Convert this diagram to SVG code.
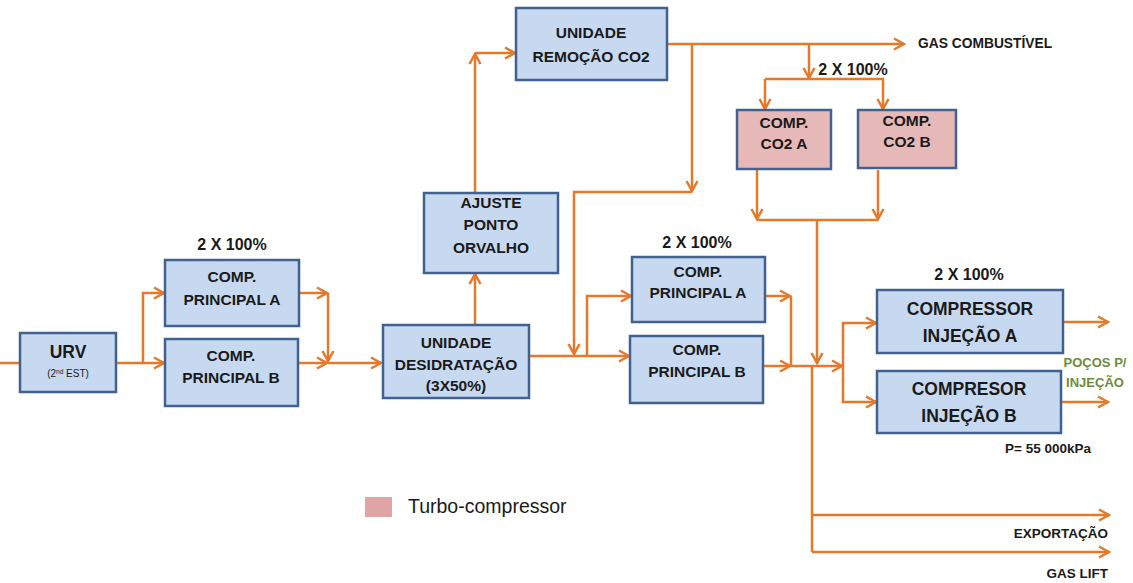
<svg xmlns="http://www.w3.org/2000/svg" width="1133" height="583" viewBox="0 0 1133 583">
<defs>
<marker id="ah" markerUnits="userSpaceOnUse" markerWidth="14" markerHeight="14" viewBox="0 0 14 14" refX="12" refY="7" orient="auto">
<path d="M2,1.5 L12,7 L2,12.5" fill="none" stroke="#e5792b" stroke-width="2.5"/>
</marker>
</defs>
<style>
.box{fill:#c6d9f1;stroke:#41628e;stroke-width:2.5}
.pink{fill:#e6b9b8;stroke:#41628e;stroke-width:2.5}
.t{font-family:"Liberation Sans",Arial,sans-serif;font-weight:bold;font-size:15.5px;fill:#1a1a1a;text-anchor:middle}
.tl{font-size:17.5px}
.s{font-family:"Liberation Sans",Arial,sans-serif;font-weight:bold;font-size:13.5px;fill:#1a1a1a}
.c{fill:none;stroke:#e5792b;stroke-width:2.5}
.a{marker-end:url(#ah)}
</style>
<rect width="1133" height="583" fill="#ffffff"/>
<g id="connectors">
<path class="c" d="M0,363 H20"/>
<path class="c a" d="M117,363 H164"/>
<path class="c a" d="M143,363 V293 H164"/>
<path class="c a" d="M300,293 H327"/>
<path class="c a" d="M328,293 V361"/>
<path class="c a" d="M298,363 H327"/>
<path class="c a" d="M328,363 H381"/>
<path class="c a" d="M475,325 V274"/>
<path class="c a" d="M475,193 V54"/>
<path class="c a" d="M475,53 H515"/>
<path class="c a" d="M667,44 H904"/>
<path class="c a" d="M692,44 V191"/>
<path class="c a" d="M692,192 H574 V354"/>
<path class="c a" d="M809,44 V78"/>
<path class="c a" d="M765,79 H883 V109"/>
<path class="c a" d="M765,79 V109"/>
<path class="c a" d="M757,169 V219"/>
<path class="c a" d="M878,170 V219"/>
<path class="c" d="M757,220 H878"/>
<path class="c a" d="M817,220 V363"/>
<path class="c" d="M529,356 H587"/>
<path class="c a" d="M587,356 H629"/>
<path class="c a" d="M587,356 V296 H631"/>
<path class="c a" d="M765,296 H790"/>
<path class="c a" d="M763,366 H790"/>
<path class="c" d="M791,296 V366"/>
<path class="c a" d="M791,366 H842"/>
<path class="c a" d="M843,366 V323 H876"/>
<path class="c a" d="M843,366 V402 H876"/>
<path class="c a" d="M1063,322 H1108"/>
<path class="c a" d="M1061,402 H1108"/>
<path class="c" d="M812,366 V552"/>
<path class="c a" d="M812,515 H1109"/>
<path class="c a" d="M812,552 H1109"/>
</g>
<g id="urv">
<rect class="box" x="20" y="333" width="96" height="59"/>
<text class="t" x="68" y="358" style="font-size:17.5px">URV</text>
<text class="t" x="68" y="377" style="font-size:10px;font-weight:normal">(2<tspan font-size="6.5" dy="-3">nd</tspan><tspan dy="3"> EST)</tspan></text>
</g>
<g id="comp-principal-a1">
<text class="t" x="232" y="250" style="font-size:16px">2 X 100%</text>
<rect class="box" x="165" y="260" width="134" height="66"/>
<text class="t" x="232" y="282">COMP.</text>
<text class="t" x="232" y="305">PRINCIPAL A</text>
</g>
<g id="comp-principal-b1">
<rect class="box" x="165" y="339" width="133" height="67"/>
<text class="t" x="231" y="361">COMP.</text>
<text class="t" x="231" y="383">PRINCIPAL B</text>
</g>
<g id="desidratacao">
<rect class="box" x="383" y="325" width="146" height="73"/>
<text class="t" x="456" y="348">UNIDADE</text>
<text class="t" x="456" y="370">DESIDRATAÇÃO</text>
<text class="t" x="456" y="391">(3X50%)</text>
</g>
<g id="ajuste">
<rect class="box" x="424" y="193" width="134" height="80"/>
<text class="t" x="491" y="208">AJUSTE</text>
<text class="t" x="491" y="230">PONTO</text>
<text class="t" x="491" y="253">ORVALHO</text>
</g>
<g id="remocao">
<rect class="box" x="516" y="8" width="151" height="72"/>
<text class="t" x="591" y="38">UNIDADE</text>
<text class="t" x="591" y="62">REMOÇÃO CO2</text>
</g>
<g id="labels-top">
<text class="s" x="918" y="48" style="font-size:13.8px">GAS COMBUSTÍVEL</text>
<text class="t" x="853" y="75" style="font-size:16px">2 X 100%</text>
</g>
<g id="comp-co2-a">
<rect class="pink" x="737" y="110" width="94" height="59"/>
<text class="t" x="784" y="128">COMP.</text>
<text class="t" x="784" y="149">CO2 A</text>
</g>
<g id="comp-co2-b">
<rect class="pink" x="858" y="110" width="98" height="58"/>
<text class="t" x="907" y="126">COMP.</text>
<text class="t" x="907" y="147">CO2 B</text>
</g>
<g id="comp-principal-a2">
<text class="t" x="697" y="248" style="font-size:16px">2 X 100%</text>
<rect class="box" x="632" y="257" width="133" height="65"/>
<text class="t" x="698" y="277">COMP.</text>
<text class="t" x="698" y="298">PRINCIPAL A</text>
</g>
<g id="comp-principal-b2">
<rect class="box" x="630" y="336" width="133" height="67"/>
<text class="t" x="697" y="355">COMP.</text>
<text class="t" x="697" y="377">PRINCIPAL B</text>
</g>
<g id="compressor-injecao-a">
<text class="t" x="969" y="280" style="font-size:16px">2 X 100%</text>
<rect class="box" x="877" y="290" width="186" height="63"/>
<text class="t tl" x="970" y="315">COMPRESSOR</text>
<text class="t tl" x="970" y="342">INJEÇÃO A</text>
</g>
<g id="compressor-injecao-b">
<rect class="box" x="877" y="371" width="184" height="62"/>
<text class="t tl" x="969" y="395">COMPRESOR</text>
<text class="t tl" x="969" y="422">INJEÇÃO B</text>
</g>
<g id="labels-right">
<text class="s" x="1095" y="367" style="fill:#6e8b3d;text-anchor:middle;font-size:13px">POÇOS P/</text>
<text class="s" x="1095" y="387" style="fill:#6e8b3d;text-anchor:middle;font-size:13px">INJEÇÃO</text>
<text class="s" x="1005" y="453">P= 55 000kPa</text>
<text class="s" x="1108" y="538" style="text-anchor:end">EXPORTAÇÃO</text>
<text class="s" x="1108" y="578" style="text-anchor:end">GAS LIFT</text>
</g>
<g id="legend">
<rect x="365" y="497" width="27" height="20" fill="#e0a4a4"/>
<text x="408" y="513" style="font-family:'Liberation Sans',Arial,sans-serif;font-size:19.5px;fill:#1a1a1a">Turbo-compressor</text>
</g>
</svg>
